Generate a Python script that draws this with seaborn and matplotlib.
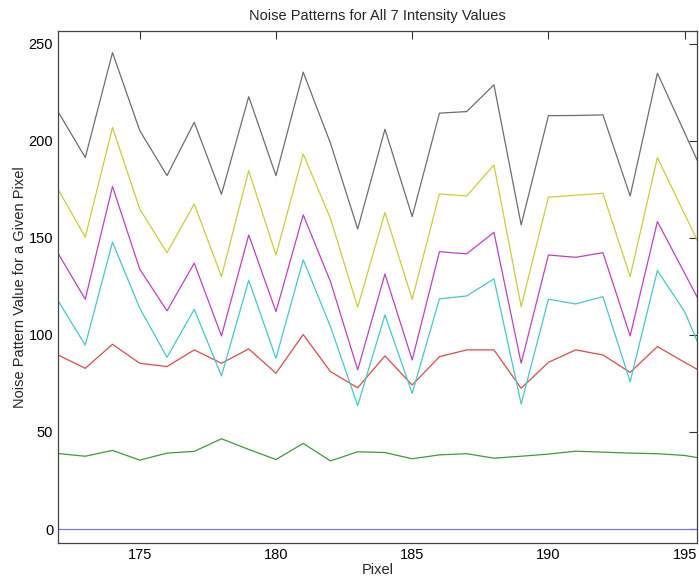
import numpy as np
import pandas as pd
import seaborn as sns
import matplotlib
matplotlib.use("Agg")
import matplotlib.pyplot as plt

pixels = list(range(172, 197))

int0 = [0.0] * 25
int1 = [38.9, 37.5, 40.5, 35.5, 39.1, 40.0, 46.5, 41.0, 35.8, 44.1, 35.1, 39.8, 39.4,
        36.2, 38.2, 38.8, 36.5, 37.5, 38.6, 40.1, 39.6, 39.1, 38.8, 37.9, 35.5]
int2 = [89.7, 82.8, 95.2, 85.4, 83.7, 92.3, 85.4, 92.8, 80.3, 100.2, 81.1, 72.8, 89.2,
        74.2, 88.8, 92.3, 92.3, 72.5, 85.9, 92.3, 89.7, 80.7, 94.0, 85.9, 78.0]
int3 = [117.7, 94.8, 147.8, 113.8, 88.5, 113.2, 78.9, 128.2, 88.0, 138.7, 104.3, 63.6, 110.3,
        69.9, 118.6, 120.1, 128.9, 64.4, 118.4, 116.0, 119.7, 75.9, 133.2, 112.0, 79.0]
int4 = [142.1, 118.4, 176.5, 133.9, 112.4, 137.0, 99.5, 151.5, 112.0, 161.9, 127.5, 82.0, 131.4,
        87.1, 142.9, 141.8, 152.9, 85.4, 141.2, 140.0, 142.4, 99.5, 158.4, 131.8, 105.0]
int5 = [175.1, 150.4, 206.9, 164.9, 142.4, 167.5, 130.1, 184.7, 141.2, 193.3, 160.0, 114.3, 163.1,
        118.4, 172.7, 171.6, 187.6, 114.6, 171.0, 172.0, 173.0, 130.1, 191.4, 162.2, 133.0]
int6 = [215.1, 191.4, 245.5, 205.3, 182.1, 209.6, 172.5, 222.8, 182.1, 235.4, 198.8, 154.6, 206.0,
        161.0, 214.3, 215.1, 228.9, 156.7, 213.0, 213.1, 213.4, 171.6, 234.9, 204.2, 173.5]

series = [int0, int1, int2, int3, int4, int5, int6]
names = ["I1", "I2", "I3", "I4", "I5", "I6", "I7"]
colors = ["#7878e0", "#3f9a3f", "#dd4a4a", "#45c8c8", "#c040c0", "#cccc3a", "#6e6e6e"]

df = pd.DataFrame({
    "Pixel": pixels * len(series),
    "Value": sum(series, []),
    "Series": sum([[n] * len(pixels) for n in names], []),
})

sns.set_style("white")
plt.rcParams['font.family'] = ['Liberation Sans', 'DejaVu Sans']

fig = plt.figure(figsize=(6.99, 5.78), dpi=100)
ax = fig.add_axes([0.083, 0.0606, 0.914, 0.886])

sns.lineplot(data=df, x="Pixel", y="Value", hue="Series", palette=colors,
             linewidth=0.9, legend=False, ax=ax)

ax.set_xlim(172, 195.45)
ax.set_ylim(-7.2, 256.7)
ax.set_xticks([175, 180, 185, 190, 195])
ax.set_yticks([0, 50, 100, 150, 200, 250])
ax.tick_params(direction="in", length=6, width=0.8, top=True, right=True,
               labelsize=10.5, colors="#333333", labelcolor="black")
for s in ax.spines.values():
    s.set_color("#444444")
    s.set_linewidth(0.9)
ax.set_title("Noise Patterns for All 7 Intensity Values", fontsize=10.5, pad=8)
ax.set_xlabel("Pixel", fontsize=10.5, labelpad=1)
ax.set_ylabel("Noise Pattern Value for a Given Pixel", fontsize=10.5, labelpad=1)

fig.savefig("out.png", dpi=100)
